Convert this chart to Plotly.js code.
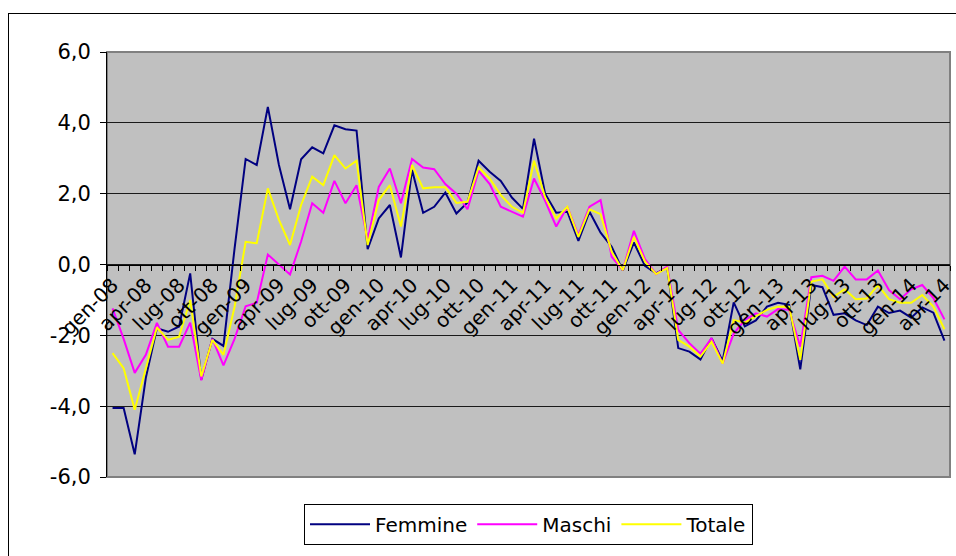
<!DOCTYPE html>
<html>
<head>
<meta charset="utf-8">
<script src="https://cdn.plot.ly/plotly-3.0.1.min.js"></script>
<style>
html,body{margin:0;padding:0;background:#fff;overflow:hidden;}
#wrap{position:relative;width:956px;height:556px;}
#chart{position:absolute;left:0;top:0;width:956px;height:556px;}
#frame{position:absolute;left:8px;top:13px;width:1000px;height:600px;border:1px solid #000;pointer-events:none;}
</style>
</head>
<body>
<div id="wrap"><div id="chart"></div><div id="frame"></div></div>
<script>
// Monthly categories: gen-08 ... apr-14
const monthNames = ["gen","feb","mar","apr","mag","giu","lug","ago","set","ott","nov","dic"];
const months = [];
for (let y = 8; y <= 14; y++) {
  for (let m = 0; m < 12; m++) {
    if (y === 14 && m > 3) break;
    months.push(monthNames[m] + "-" + (y < 10 ? "0" + y : "" + y));
  }
}

const femmine = [
  -4.05,-4.05,-5.36,-3.2,-1.8,-1.9,-1.75,-0.25,-3.25,-2.1,
  -2.3,0.45,2.98,2.81,4.45,2.81,1.56,2.97,3.31,3.14,
  3.93,3.82,3.78,0.43,1.30,1.68,0.20,2.67,1.46,1.63,
  2.03,1.44,1.75,2.93,2.62,2.36,1.89,1.57,3.55,2.0,
  1.46,1.49,0.67,1.49,0.90,0.50,-0.17,0.62,-0.04,-0.25,
  -0.08,-2.36,-2.46,-2.68,-2.08,-2.72,-1.07,-1.75,-1.58,-1.19,
  -1.08,-1.14,-2.96,-0.58,-0.64,-1.42,-1.38,-1.58,-1.71,-1.19,
  -1.37,-1.30,-1.50,-1.21,-1.36,-2.15
];
const maschi = [
  -1.24,-2.1,-3.06,-2.55,-1.65,-2.32,-2.32,-1.64,-3.27,-2.1,
  -2.85,-2.1,-1.18,-1.08,0.28,0.0,-0.28,0.65,1.73,1.46,
  2.36,1.73,2.24,0.69,2.19,2.71,1.73,2.98,2.74,2.69,
  2.27,2.0,1.56,2.65,2.27,1.63,1.49,1.35,2.43,1.8,
  1.07,1.63,0.83,1.63,1.82,0.22,-0.16,0.95,0.15,-0.27,
  -0.06,-1.85,-2.22,-2.52,-2.08,-2.8,-1.95,-1.57,-1.38,-1.47,
  -1.26,-1.28,-2.32,-0.36,-0.32,-0.46,-0.06,-0.42,-0.42,-0.17,
  -0.72,-0.98,-0.70,-0.58,-0.95,-1.55
];
const totale = [
  -2.5,-2.93,-4.1,-2.9,-1.78,-2.13,-2.04,-1.0,-3.16,-2.13,
  -2.55,-1.2,0.64,0.60,2.15,1.26,0.55,1.68,2.48,2.24,
  3.09,2.71,2.93,0.55,1.82,2.24,1.07,2.81,2.15,2.18,
  2.18,1.74,1.77,2.74,2.43,1.96,1.63,1.46,2.93,1.9,
  1.30,1.63,0.78,1.56,1.42,0.36,-0.16,0.78,0.08,-0.27,
  -0.1,-2.13,-2.32,-2.6,-2.18,-2.8,-1.57,-1.64,-1.47,-1.28,
  -1.19,-1.19,-2.69,-0.48,-0.42,-0.91,-0.70,-0.98,-0.96,-0.58,
  -0.98,-1.08,-1.08,-0.86,-1.19,-1.83
];
const yTicks = [-6,-4,-2,0,2,4,6];
const yTickText = ["-6,0","-4,0","-2,0","0,0","2,0","4,0","6,0"];

const xIdx = months.map((_, i) => i);
const labelIdx = xIdx.filter(i => i % 3 === 0);
const labelText = labelIdx.map(i => months[i]);
const boundaries = months.map((_, i) => i - 0.5).concat([months.length - 0.5]);

const font = "DejaVu Sans, Verdana, sans-serif";
const mk = (name, y, color) => ({
  type: "scatter", mode: "lines", name: name, x: xIdx, y: y,
  line: {color: color, width: 2}, hoverinfo: "skip"
});

const data = [
  mk("Femmine", femmine, "#000080"),
  mk("Maschi", maschi, "#FF00FF"),
  mk("Totale", totale, "#FFFF00")
];

const layout = {
  width: 956, height: 556,
  margin: {l: 107, r: 6, t: 52, b: 79, autoexpand: false},
  paper_bgcolor: "#ffffff",
  plot_bgcolor: "#C0C0C0",
  showlegend: true,
  font: {family: font, color: "#000"},
  xaxis: {
    range: [-0.5, months.length - 0.5],
    anchor: "free", position: 0.5,
    tickmode: "array", tickvals: labelIdx, ticktext: labelText,
    tickangle: -45, ticks: "", ticklen: 0,
    tickfont: {family: font, size: 20, color: "#000"},
    showgrid: false, zeroline: false,
    showline: true, linecolor: "#000", linewidth: 1,
    minor: {tickmode: "array", tickvals: boundaries, ticks: "outside", ticklen: 5, tickcolor: "#000", tickwidth: 1, showgrid: false},
    automargin: false, fixedrange: true
  },
  yaxis: {
    range: [-6, 6], domain: [0, 1],
    tickmode: "array", tickvals: yTicks, ticktext: yTickText,
    ticks: "outside", ticklen: 6, tickcolor: "#000",
    ticklabelstandoff: 5,
    tickfont: {family: font, size: 21, color: "#000"},
    showgrid: true, gridcolor: "#1a1a1a", gridwidth: 1,
    zeroline: false, showline: true, linecolor: "#000", linewidth: 1,
    automargin: false, fixedrange: true
  },
  legend: {
    orientation: "h", xref: "paper", x: 0.5, xanchor: "center",
    yref: "container", y: 0.094, yanchor: "top",
    bgcolor: "#fff", bordercolor: "#000", borderwidth: 1,
    font: {family: font, size: 20, color: "#000"},
    itemwidth: 60
  },
  shapes: [
    {type: "rect", xref: "paper", yref: "paper", x0: 0, x1: 1, y0: 0, y1: 1,
     line: {color: "#808080", width: 2}, fillcolor: "rgba(0,0,0,0)", layer: "below"}
  ]
};

Plotly.newPlot("chart", data, layout, {staticPlot: true, displayModeBar: false});
</script>
</body>
</html>
